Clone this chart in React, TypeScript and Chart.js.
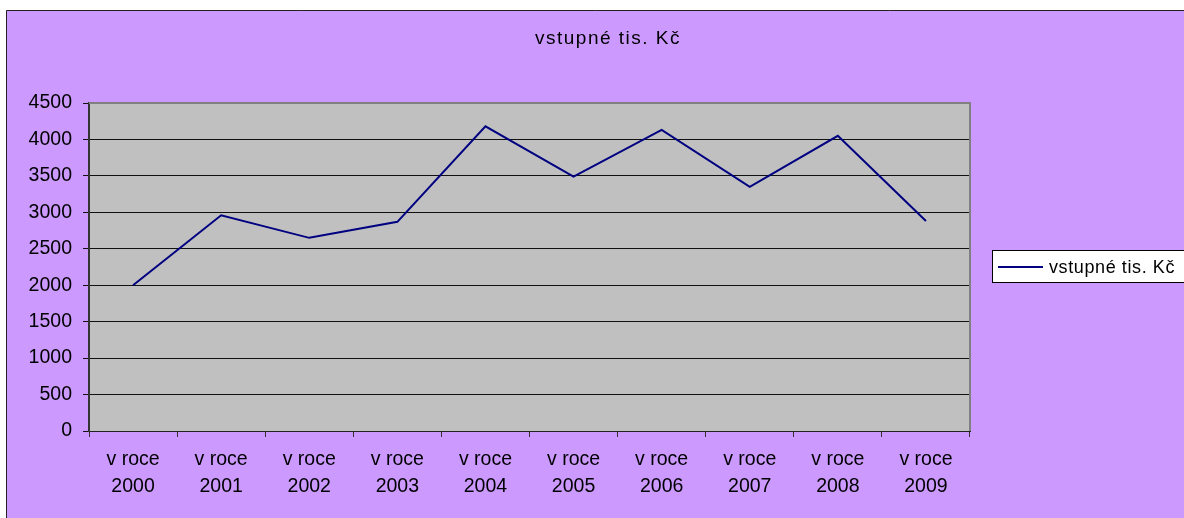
import React, { useEffect, useRef } from "react";
import { Chart, registerables } from "chart.js";

Chart.register(...registerables);

const categories: string[][] = [
  ["v roce", "2000"],
  ["v roce", "2001"],
  ["v roce", "2002"],
  ["v roce", "2003"],
  ["v roce", "2004"],
  ["v roce", "2005"],
  ["v roce", "2006"],
  ["v roce", "2007"],
  ["v roce", "2008"],
  ["v roce", "2009"],
];
const seriesLabel = "vstupné tis. Kč";
const seriesValues: number[] = [2000, 2960, 2650, 2870, 4180, 3490, 4130, 3350, 4050, 2880];
const titleText = "vstupné tis. Kč";
const yMin = 0;
const yMax = 4500;
const yStep = 500;

const FONT = "'Liberation Sans', Arial, sans-serif";
const W = 1184;
const H = 518;

const framePlugin = {
  id: "framePlugin",
  beforeDraw(chart: any) {
    const ctx = chart.ctx as CanvasRenderingContext2D;
    const a = chart.chartArea;
    ctx.save();
    ctx.fillStyle = "#ffffff";
    ctx.fillRect(0, 0, W, H);
    ctx.fillStyle = "#CC99FF";
    ctx.fillRect(6, 10, W, H);
    ctx.strokeStyle = "#222222";
    ctx.lineWidth = 1;
    ctx.beginPath();
    ctx.moveTo(6.5, H);
    ctx.lineTo(6.5, 10.5);
    ctx.lineTo(W, 10.5);
    ctx.stroke();
    ctx.fillStyle = "#C0C0C0";
    ctx.fillRect(a.left, a.top, a.right - a.left, a.bottom - a.top);
    ctx.restore();
  },
  afterDraw(chart: any) {
    const ctx = chart.ctx as CanvasRenderingContext2D;
    const a = chart.chartArea;
    ctx.save();
    // plot area border (top/right)
    ctx.strokeStyle = "#808080";
    ctx.lineWidth = 2;
    ctx.beginPath();
    ctx.moveTo(a.left, a.top);
    ctx.lineTo(a.right, a.top);
    ctx.lineTo(a.right, a.bottom);
    ctx.stroke();
    // title
    ctx.fillStyle = "#000000";
    ctx.font = `19px ${FONT}`;
    (ctx as any).letterSpacing = "1.5px";
    ctx.textAlign = "center";
    ctx.textBaseline = "alphabetic";
    ctx.fillText(titleText, 608, 44);
    // legend
    const ds = chart.data.datasets[0];
    ctx.fillStyle = "#ffffff";
    ctx.fillRect(992, 250, 200, 33);
    ctx.strokeStyle = "#000000";
    ctx.lineWidth = 1;
    ctx.strokeRect(992.5, 250.5, 200, 32);
    ctx.strokeStyle = ds.borderColor;
    ctx.lineWidth = 2;
    ctx.beginPath();
    ctx.moveTo(998, 267);
    ctx.lineTo(1043, 267);
    ctx.stroke();
    ctx.fillStyle = "#000000";
    ctx.font = `18px ${FONT}`;
    (ctx as any).letterSpacing = "0.6px";
    ctx.textAlign = "left";
    ctx.textBaseline = "alphabetic";
    ctx.fillText(ds.label, 1049, 273);
    ctx.restore();
  },
};

export default function App() {
  const ref = useRef<HTMLCanvasElement | null>(null);
  useEffect(() => {
    document.body.style.margin = "0";
    const canvas = ref.current!;
    const chart = new Chart(canvas, {
      type: "line",
      data: {
        labels: categories,
        datasets: [
          {
            label: seriesLabel,
            data: seriesValues,
            borderColor: "#000080",
            backgroundColor: "#000080",
            borderWidth: 2,
            pointRadius: 0,
            tension: 0,
            fill: false,
          },
        ],
      },
      options: {
        responsive: false,
        animation: false,
        devicePixelRatio: 1,
        layout: { padding: { top: 103, right: 214, left: 0, bottom: 0 } },
        plugins: {
          legend: { display: false },
          title: { display: false },
          tooltip: { enabled: false },
        },
        scales: {
          x: {
            type: "category",
            offset: true,
            grid: {
              display: true,
              offset: true,
              drawOnChartArea: false,
              drawTicks: true,
              tickLength: 6,
              color: "#333333",
            },
            border: { display: true, color: "#222222", width: 1 },
            ticks: {
              color: "#000000",
              font: { family: FONT, size: 19.5, lineHeight: 1.34 },
              padding: 10,
              maxRotation: 0,
              autoSkip: false,
            },
            afterFit(scale: any) {
              scale.height = 87;
            },
          },
          y: {
            min: yMin,
            max: yMax,
            ticks: {
              stepSize: yStep,
              color: "#000000",
              font: { family: FONT, size: 19.5 },
              padding: 11,
              callback: (v: any) => String(v),
            },
            grid: {
              color: "#111111",
              lineWidth: 1,
              tickLength: 6,
            },
            border: { display: true, color: "#333333", width: 2 },
            afterFit(scale: any) {
              scale.width = 89;
            },
          },
        },
      },
      plugins: [framePlugin],
    });
    return () => chart.destroy();
  }, []);
  return (
    <div style={{ position: "fixed", left: 0, top: 0, width: W, height: H }}>
      <canvas ref={ref} width={W} height={H} style={{ display: "block", width: W, height: H }} />
    </div>
  );
}
